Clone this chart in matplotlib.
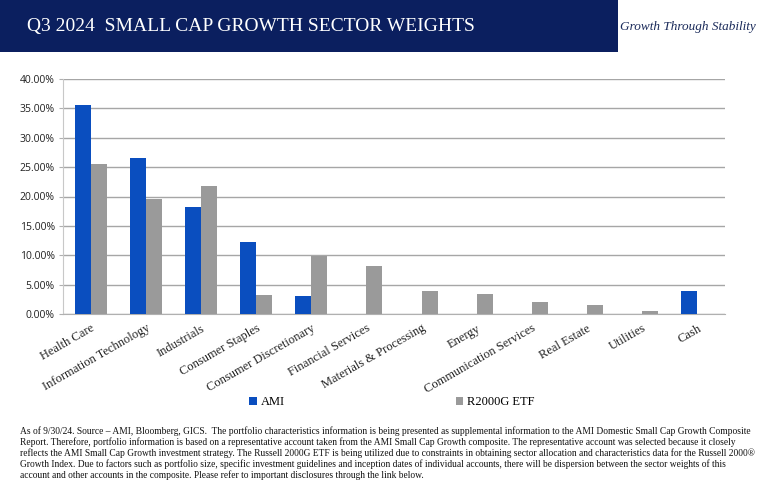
import matplotlib
matplotlib.use("Agg")
import matplotlib.pyplot as plt
import numpy as np
from matplotlib.patches import Rectangle
from matplotlib.ticker import FuncFormatter

sectors = ["Health Care", "Information Technology", "Industrials", "Consumer Staples",
           "Consumer Discretionary", "Financial Services", "Materials & Processing",
           "Energy", "Communication Services", "Real Estate", "Utilities", "Cash"]
ami = [35.6, 26.6, 18.2, 12.3, 3.1, 0.0, 0.0, 0.0, 0.0, 0.0, 0.0, 3.9]
r2000g = [25.5, 19.6, 21.8, 3.2, 9.9, 8.2, 3.9, 3.4, 2.0, 1.5, 0.5, 0.0]
yticks = [0, 5, 10, 15, 20, 25, 30, 35, 40]

footnote = [
    "As of 9/30/24. Source \u2013 AMI, Bloomberg, GICS.  The portfolio characteristics information is being presented as supplemental information to the AMI Domestic Small Cap Growth Composite",
    "Report. Therefore, portfolio information is based on a representative account taken from the AMI Small Cap Growth composite. The representative account was selected because it closely",
    "reflects the AMI Small Cap Growth investment strategy. The Russell 2000G ETF is being utilized due to constraints in obtaining sector allocation and characteristics data for the Russell 2000\u00ae",
    "Growth Index. Due to factors such as portfolio size, specific investment guidelines and inception dates of individual accounts, there will be dispersion between the sector weights of this",
    "account and other accounts in the composite. Please refer to important disclosures through the link below.",
]

BLUE = "#0a4ebf"
GRAY = "#9a9a9a"
NAVY = "#0b1f5f"
SERIF = ["Liberation Serif", "DejaVu Serif"]

W, H = 764, 491
fig = plt.figure(figsize=(W / 100, H / 100), dpi=100)
fig.patch.set_facecolor("white")

# header band
fig.patches.append(Rectangle((0, 1 - 52 / H), 618 / W, 52 / H, transform=fig.transFigure,
                             facecolor=NAVY, edgecolor="none"))
fig.text(27 / W, 1 - 27 / H, "Q3 2024  SMALL CAP GROWTH SECTOR WEIGHTS", color="white",
         family=SERIF, fontsize=14, va="center", ha="left")
fig.text(620 / W, 1 - 27 / H, "Growth Through Stability", color="#1a2a5a",
         family=SERIF, style="italic", fontsize=9.5, va="center", ha="left")

ax = fig.add_axes([63 / W, (H - 314) / H, (725 - 63) / W, (314 - 79) / H])
x = np.arange(len(sectors))
w = 0.29
ax.bar(x - w / 2, ami, width=w, color=BLUE, label="AMI", zorder=3)
ax.bar(x + w / 2, r2000g, width=w, color=GRAY, label="R2000G ETF", zorder=3)

ax.set_xlim(-0.5, len(sectors) - 0.5)
ax.set_ylim(0, 40)
ax.set_yticks(yticks)
ax.yaxis.set_major_formatter(FuncFormatter(lambda v, p: f"{v:.2f}%"))
ax.grid(axis="y", color="#a6a6a6", linewidth=1.0, zorder=0)
for s in ["top", "right"]:
    ax.spines[s].set_visible(False)
ax.spines["bottom"].set_color("#b0b0b0")
ax.spines["left"].set_color("#c8c8c8")
ax.tick_params(axis="y", length=3, color="#b0b0b0", labelsize=7.5, pad=3)
ax.tick_params(axis="x", length=0, pad=6)
for lab in ax.get_yticklabels():
    lab.set_family(["Open Sans", "DejaVu Sans"])
    lab.set_color("#222222")

ax.set_xticks(x)
ax.set_xticklabels(sectors, rotation=30, ha="right", va="top", rotation_mode="anchor",
                   family=SERIF, fontsize=9, color="#222222")

fig.legend(loc="center left", bbox_to_anchor=(238 / W, 1 - 402 / H), ncol=2,
           frameon=False, prop={"family": SERIF, "size": 9},
           handlelength=0.6, handleheight=0.6, handletextpad=0.3, columnspacing=13.7)

# footnote: one font size, chosen so the first line spans the text block
fig.canvas.draw()
renderer = fig.canvas.get_renderer()
left, right = 20, 751
texts = [fig.text(left / W, 1 - (431 + 11 * i) / H, line, family=SERIF, fontsize=6.5,
                  va="center", ha="left", color="#111111")
         for i, line in enumerate(footnote)]
size = 6.5 * (right - left) / texts[0].get_window_extent(renderer).width
for t in texts:
    t.set_fontsize(size)

fig.savefig("out.png", dpi=100, facecolor="white")
